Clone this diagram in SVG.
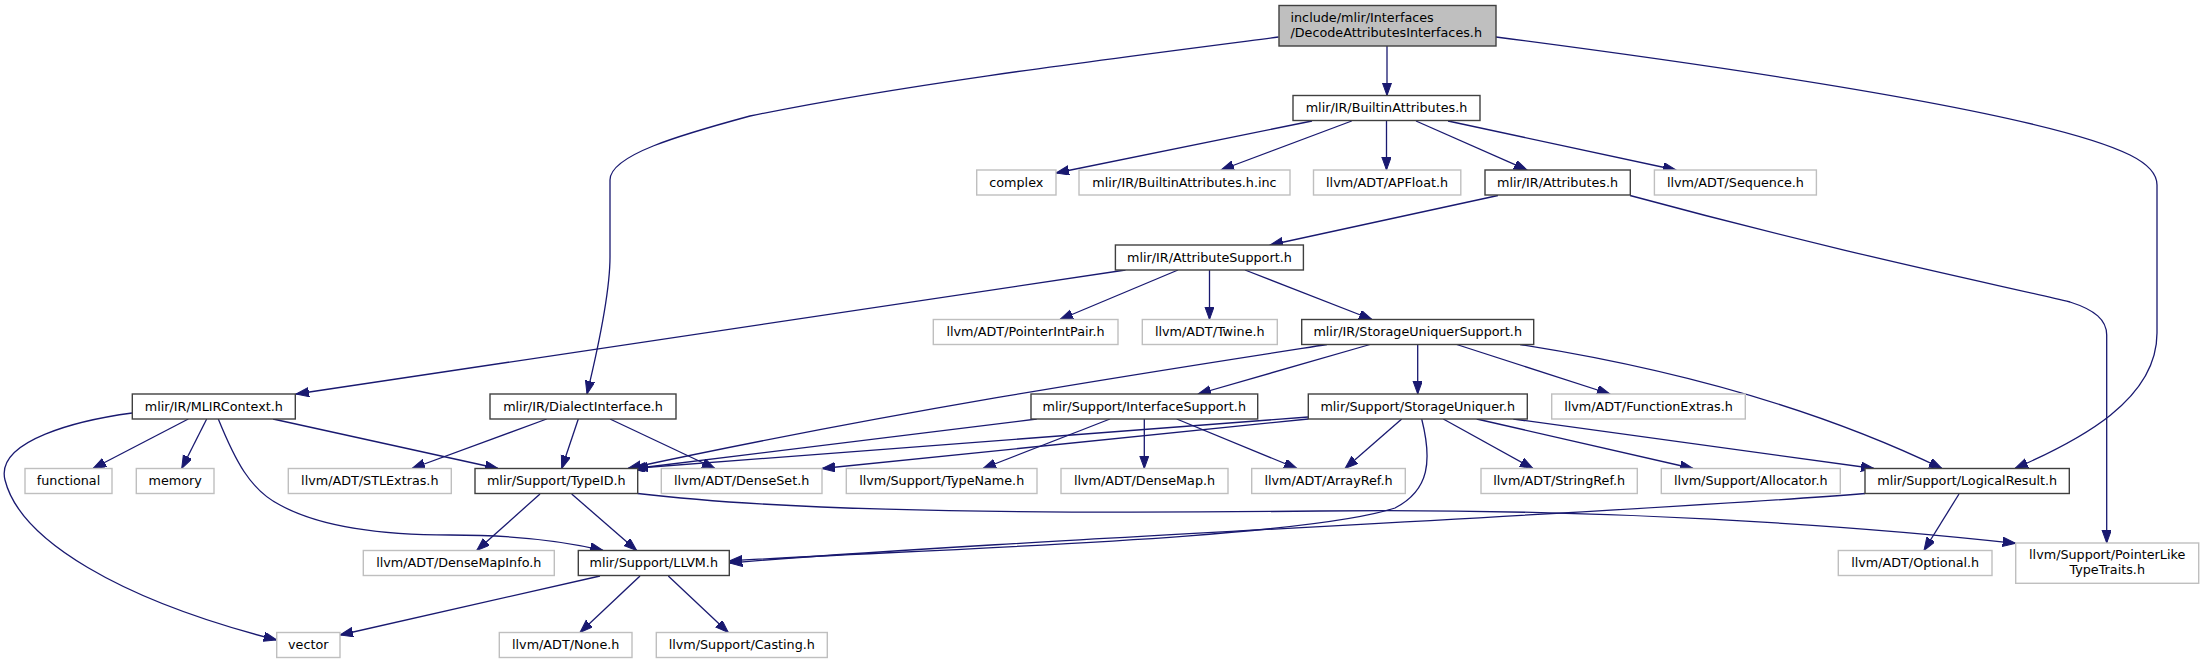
<svg xmlns="http://www.w3.org/2000/svg" width="2204" height="664" viewBox="0 0 2204 664">
<defs>
<marker id="ah" markerUnits="userSpaceOnUse" markerWidth="15" markerHeight="11" refX="13" refY="4.7" orient="auto">
<path d="M0,0 L13,4.7 L0,9.4 Z" fill="#191970" stroke="#191970" stroke-width="1"/>
</marker>
<style>
.n rect{fill:#ffffff;stroke:#404040;stroke-width:1.4}
.x rect{fill:#ffffff;stroke:#bfbfbf;stroke-width:1.4}
.r rect{fill:#bfbfbf;stroke:#404040;stroke-width:1.4}
text{font-family:"DejaVu Sans","Liberation Sans",sans-serif;font-size:12.75px;fill:#000000;text-anchor:middle}
.l{text-anchor:start}
#edges path{fill:none;stroke:#191970;stroke-width:1.3;marker-end:url(#ah)}
</style>
</defs>
<rect x="0" y="0" width="2204" height="664" fill="#ffffff"/>
<g id="edges">
<path d="M1387,46 L1387,95.5"/>
<path d="M1278.5,37 C1100,60 900,85 750,116 C680,135 610,155 610,180 L610,257 C610,290 600,340 587,394"/>
<path d="M1496,37 C1750,70 2050,115 2130,155 C2150,165 2157,175 2157,185 L2157,333 C2157,400 2080,440 2015,468.5"/>
<path d="M1312,121 L1056,173"/>
<path d="M1351.7,121 L1221,170"/>
<path d="M1386.5,121 L1386.5,170"/>
<path d="M1416,121 L1527,170"/>
<path d="M1448,121 L1676,170"/>
<path d="M1498,195.5 L1270,245"/>
<path d="M1630,195.5 C1850,255 2000,285 2070,302 C2095,310 2106.7,320 2106.7,335 L2106.7,543"/>
<path d="M1125.5,270 L296,394"/>
<path d="M1178,270 L1060,319.5"/>
<path d="M1209.5,270 L1209.5,319.5"/>
<path d="M1245,270 L1372,319.5"/>
<path d="M1327,344.5 C1150,372 900,410 628,468.5"/>
<path d="M1370,344.5 L1198,394"/>
<path d="M1417.7,344.5 L1417.7,394"/>
<path d="M1456.7,344.5 L1610,394"/>
<path d="M1520,344.5 C1650,365 1800,400 1942,468.5"/>
<path d="M188.3,419 L93,468.5"/>
<path d="M206.7,419 L181.7,468.5"/>
<path d="M132.3,413 C80,420 -5,440 5,480 C20,540 120,600 276.7,640"/>
<path d="M273,419 L498,468.5"/>
<path d="M218.3,419 C235,460 250,490 280,505 C320,527 380,535 450,535 C510,535 560,540 603,550.5"/>
<path d="M546.7,419 L412,468.5"/>
<path d="M578.3,419 L561.7,468.5"/>
<path d="M610,419 L715,468.5"/>
<path d="M1036.7,419 L635,468.5"/>
<path d="M1110,419 L983,468.5"/>
<path d="M1144.3,419 L1144.3,468.5"/>
<path d="M1176.7,419 L1297,468.5"/>
<path d="M1308.3,417 L632,468.5"/>
<path d="M1308.3,419 L822,468.5"/>
<path d="M1401.7,419 L1345,468.5"/>
<path d="M1421.7,419 C1432,460 1430,490 1395,508 C1300,540 900,550 729.3,561"/>
<path d="M1865,493.5 C1600,515 1000,540 729.3,563"/>
<path d="M1443.3,419 L1533,468.5"/>
<path d="M1476.7,419 L1693,468.5"/>
<path d="M1513.3,419 L1874,468.5"/>
<path d="M540,494 L476.7,550.5"/>
<path d="M571.7,494 L636.7,550.5"/>
<path d="M637.7,493.5 C760,508 950,515 1320,511 C1600,508 1850,525 2015.7,543.3"/>
<path d="M600,576 L340,635"/>
<path d="M640,576 L580,632.5"/>
<path d="M668.3,576 L728.3,632.5"/>
<path d="M1959,494 L1924,550.5"/>
</g>
<g id="node-root" class="r"><rect x="1279" y="5.5" width="217" height="40.5"/><text class="l" x="1290.5" y="21.5">include/mlir/Interfaces</text><text class="l" x="1290.5" y="36.5">/DecodeAttributesInterfaces.h</text></g>
<g id="node-builtinattributes" class="n"><rect x="1293" y="95.5" width="187" height="25"/><text x="1386.5" y="112">mlir/IR/BuiltinAttributes.h</text></g>
<g id="node-complex" class="x"><rect x="976.7" y="170" width="79.3" height="25"/><text x="1016.3" y="186.5">complex</text></g>
<g id="node-builtinattributes-inc" class="x"><rect x="1079" y="170" width="211" height="25"/><text x="1184.5" y="186.5">mlir/IR/BuiltinAttributes.h.inc</text></g>
<g id="node-apfloat" class="x"><rect x="1313.5" y="170" width="147.3" height="25"/><text x="1387.1" y="186.5">llvm/ADT/APFloat.h</text></g>
<g id="node-attributes" class="n"><rect x="1485" y="170" width="145.3" height="25"/><text x="1557.6" y="186.5">mlir/IR/Attributes.h</text></g>
<g id="node-sequence" class="x"><rect x="1654.4" y="170" width="162" height="25"/><text x="1735.4" y="186.5">llvm/ADT/Sequence.h</text></g>
<g id="node-attributesupport" class="n"><rect x="1115.4" y="245" width="188" height="25"/><text x="1209.4" y="261.5">mlir/IR/AttributeSupport.h</text></g>
<g id="node-pointerintpair" class="x"><rect x="933.3" y="319.5" width="184.7" height="25"/><text x="1025.6" y="336">llvm/ADT/PointerIntPair.h</text></g>
<g id="node-twine" class="x"><rect x="1142.3" y="319.5" width="135" height="25"/><text x="1209.8" y="336">llvm/ADT/Twine.h</text></g>
<g id="node-storageuniquersupport" class="n"><rect x="1301.7" y="319.5" width="232" height="25"/><text x="1417.7" y="336">mlir/IR/StorageUniquerSupport.h</text></g>
<g id="node-mlircontext" class="n"><rect x="132.3" y="394" width="163" height="25"/><text x="213.8" y="410.5">mlir/IR/MLIRContext.h</text></g>
<g id="node-dialectinterface" class="n"><rect x="490" y="394" width="186" height="25"/><text x="583" y="410.5">mlir/IR/DialectInterface.h</text></g>
<g id="node-interfacesupport" class="n"><rect x="1031" y="394" width="226.7" height="25"/><text x="1144.3" y="410.5">mlir/Support/InterfaceSupport.h</text></g>
<g id="node-storageuniquer" class="n"><rect x="1308.3" y="394" width="219" height="25"/><text x="1417.8" y="410.5">mlir/Support/StorageUniquer.h</text></g>
<g id="node-functionextras" class="x"><rect x="1551.7" y="394" width="193.6" height="25"/><text x="1648.5" y="410.5">llvm/ADT/FunctionExtras.h</text></g>
<g id="node-functional" class="x"><rect x="25" y="468.5" width="87" height="25"/><text x="68.5" y="485">functional</text></g>
<g id="node-memory" class="x"><rect x="136.3" y="468.5" width="77.7" height="25"/><text x="175.2" y="485">memory</text></g>
<g id="node-stlextras" class="x"><rect x="288.3" y="468.5" width="163" height="25"/><text x="369.8" y="485">llvm/ADT/STLExtras.h</text></g>
<g id="node-typeid" class="n"><rect x="475" y="468.5" width="162.7" height="25"/><text x="556.3" y="485">mlir/Support/TypeID.h</text></g>
<g id="node-denseset" class="x"><rect x="661.3" y="468.5" width="160.7" height="25"/><text x="741.7" y="485">llvm/ADT/DenseSet.h</text></g>
<g id="node-typename" class="x"><rect x="846.3" y="468.5" width="190.7" height="25"/><text x="941.7" y="485">llvm/Support/TypeName.h</text></g>
<g id="node-densemap" class="x"><rect x="1061" y="468.5" width="167" height="25"/><text x="1144.5" y="485">llvm/ADT/DenseMap.h</text></g>
<g id="node-arrayref" class="x"><rect x="1251.7" y="468.5" width="153.6" height="25"/><text x="1328.5" y="485">llvm/ADT/ArrayRef.h</text></g>
<g id="node-stringref" class="x"><rect x="1481" y="468.5" width="156.3" height="25"/><text x="1559.2" y="485">llvm/ADT/StringRef.h</text></g>
<g id="node-allocator" class="x"><rect x="1661.3" y="468.5" width="179" height="25"/><text x="1750.8" y="485">llvm/Support/Allocator.h</text></g>
<g id="node-logicalresult" class="n"><rect x="1865" y="468.5" width="204.3" height="25"/><text x="1967.2" y="485">mlir/Support/LogicalResult.h</text></g>
<g id="node-densemapinfo" class="x"><rect x="363.3" y="550.5" width="191" height="25"/><text x="458.8" y="567">llvm/ADT/DenseMapInfo.h</text></g>
<g id="node-llvm" class="n"><rect x="578.3" y="550.5" width="151" height="25"/><text x="653.8" y="567">mlir/Support/LLVM.h</text></g>
<g id="node-optional" class="x"><rect x="1838.3" y="550.5" width="153.7" height="25"/><text x="1915.2" y="567">llvm/ADT/Optional.h</text></g>
<g id="node-pointerliketypetraits" class="x"><rect x="2015.7" y="543" width="183" height="40.3"/><text x="2107.2" y="559">llvm/Support/PointerLike</text><text x="2107.2" y="574">TypeTraits.h</text></g>
<g id="node-vector" class="x"><rect x="276.7" y="632.5" width="63.3" height="25"/><text x="308.3" y="649">vector</text></g>
<g id="node-none" class="x"><rect x="499.3" y="632.5" width="132.7" height="25"/><text x="565.7" y="649">llvm/ADT/None.h</text></g>
<g id="node-casting" class="x"><rect x="656.3" y="632.5" width="171" height="25"/><text x="741.8" y="649">llvm/Support/Casting.h</text></g>
</svg>
